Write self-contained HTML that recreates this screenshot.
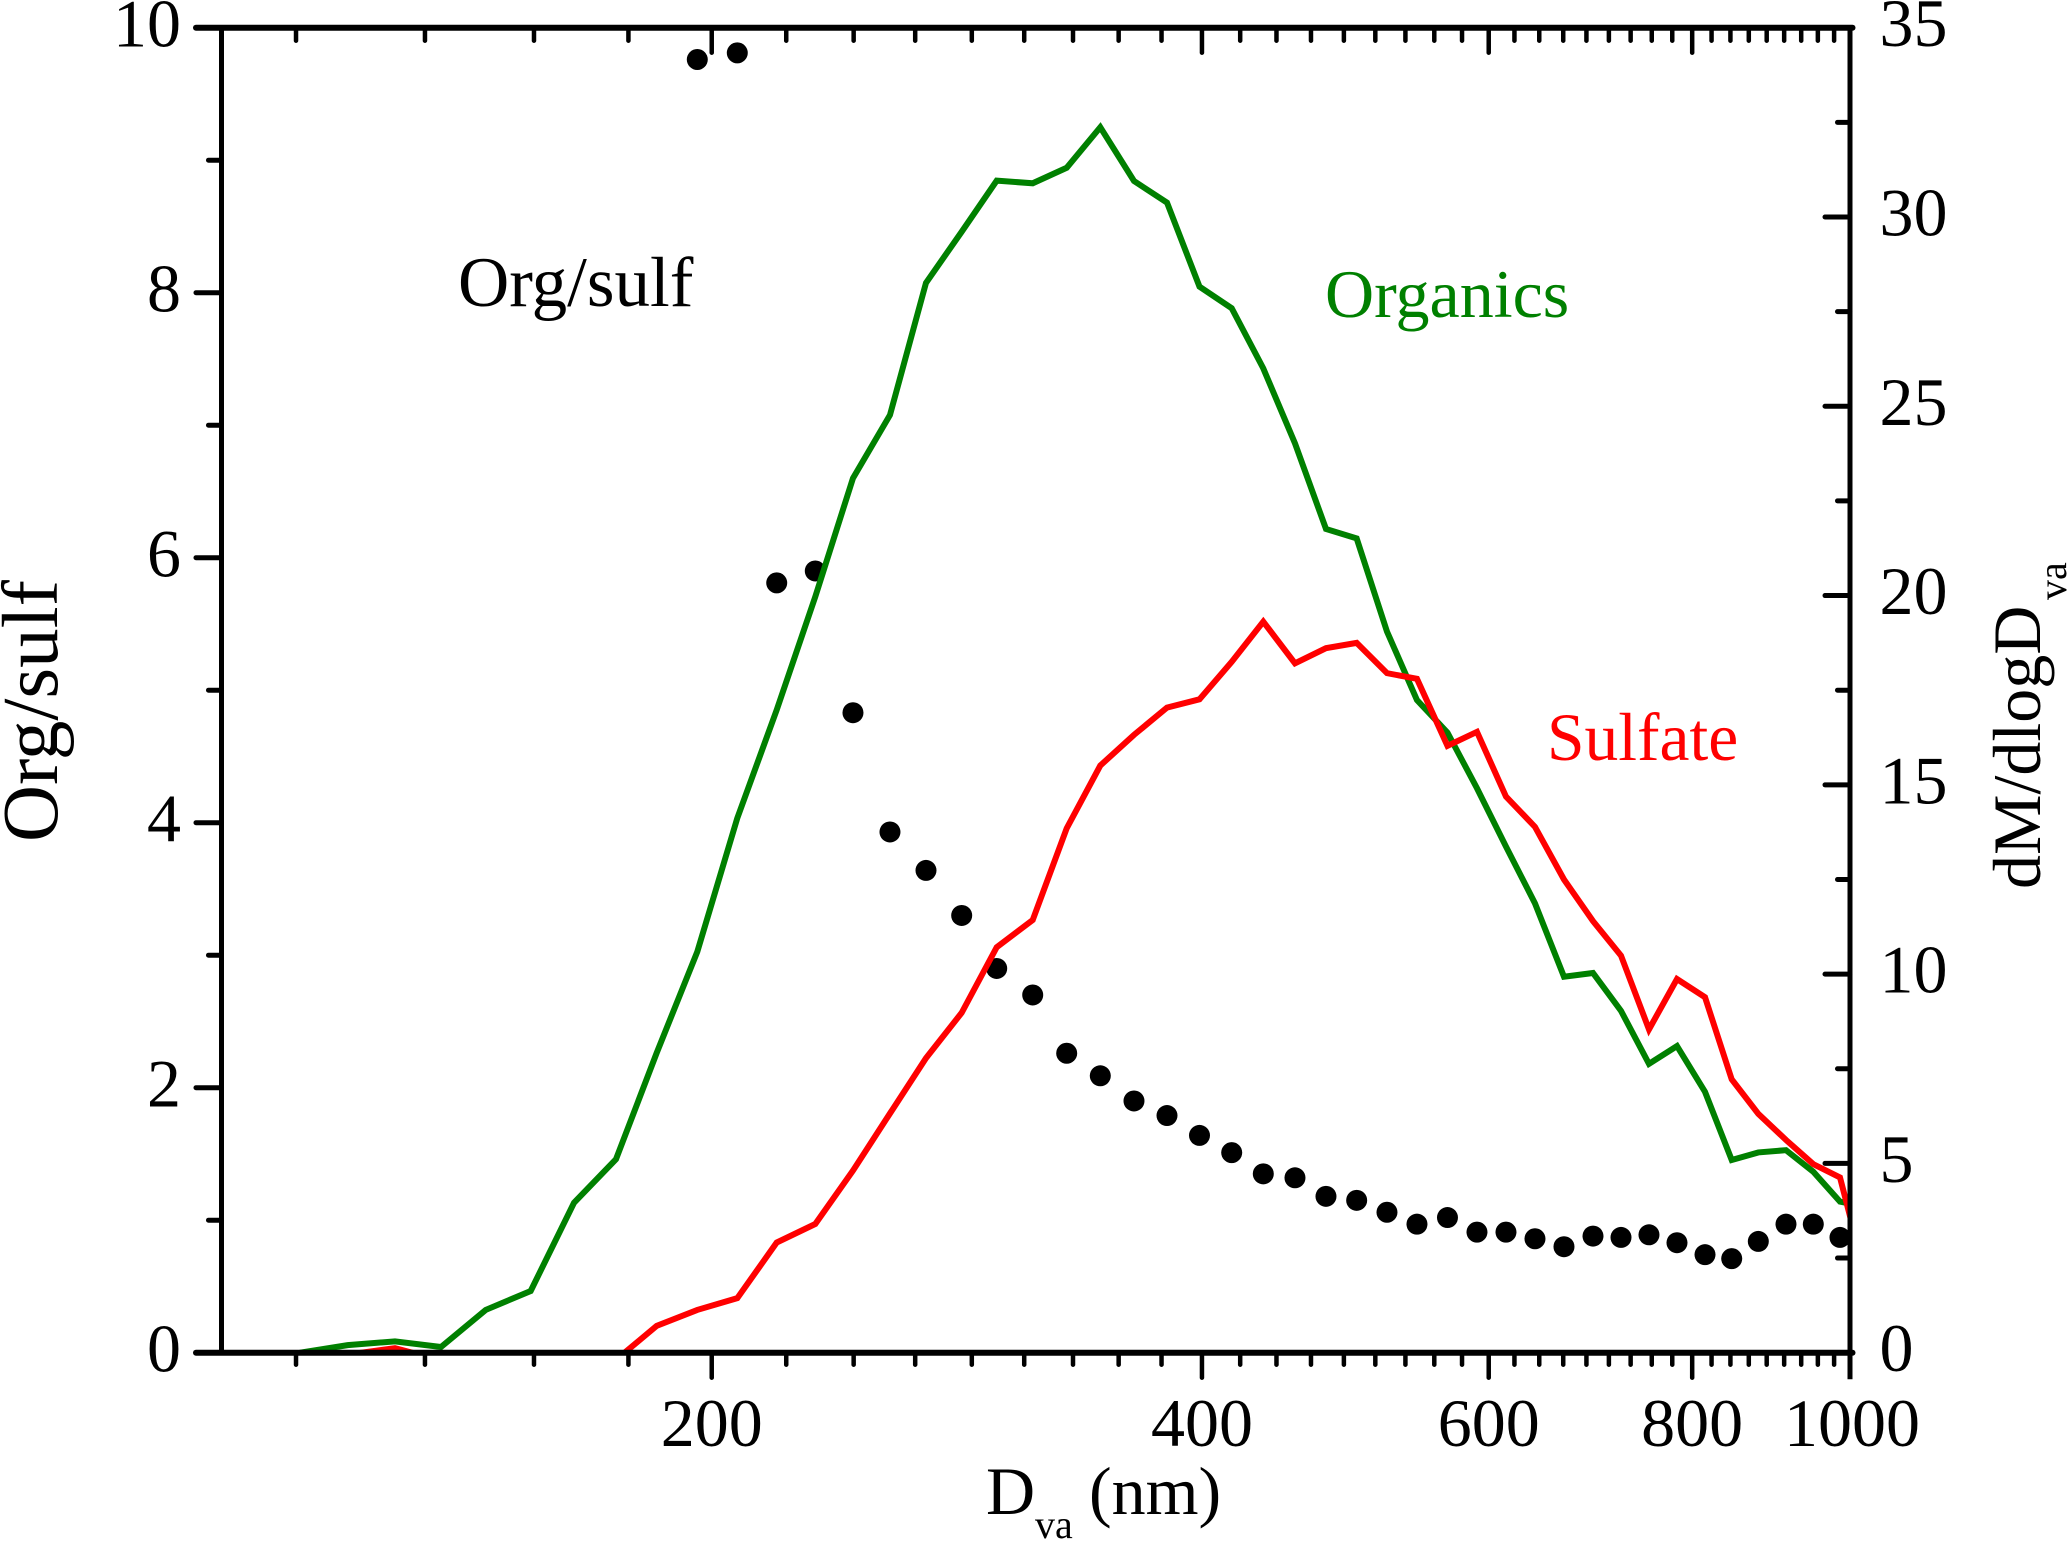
<!DOCTYPE html>
<html lang="en">
<head>
<meta charset="utf-8">
<title>Org/sulf and size distributions versus Dva</title>
<style>
html,body{margin:0;padding:0;background:#fff;}
svg{display:block;font-family:"Liberation Serif","Times New Roman",serif;}
</style>
</head>
<body>
<svg id="chart" xmlns="http://www.w3.org/2000/svg" width="2067" height="1542" viewBox="0 0 2067 1542">
  <rect x="0" y="0" width="2067" height="1542" fill="#fff"/>
  <defs>
    <clipPath id="plot-clip"><rect x="221.5" y="27.7" width="1628.5" height="1325"/></clipPath>
  </defs>
  <g id="marks" clip-path="url(#plot-clip)"></g>
  <g id="axes"></g>
  <g id="labels" font-size="68" fill="#000"></g>

  <text x="458" y="306" font-size="71" fill="#000">Org/sulf</text>
  <text x="1325" y="317" font-size="68" fill="#008000">Organics</text>
  <text x="1547" y="760" font-size="67.5" fill="#ff0000">Sulfate</text>

  <text fill="#000" font-size="68" y="1514"><tspan x="986">D</tspan><tspan x="1035" y="1538" font-size="40">va</tspan><tspan x="1089" y="1514">(nm)</tspan></text>
  <text fill="#000" font-size="79" transform="translate(57 842) rotate(-90)">Org/sulf</text>
  <text fill="#000" font-size="68" transform="translate(2040 889) rotate(-90)">dM/dlogD<tspan x="289" dy="26" font-size="40">va</tspan></text>
</svg>
<script>
const diameters = [111.74,119.53,127.80,136.39,145.29,154.83,164.61,174.68,185.03,195.96,207.36,219.25,231.54,244.21,257.33,270.77,284.79,299.24,314.87,330.37,346.45,363.35,380.71,398.61,417.18,436.24,456.23,476.67,497.81,519.61,542.12,566.01,590.12,614.82,640.56,667.37,695.32,723.40,752.60,783.00,814.64,845.99,878.41,913.47,949.43,985.95,1022.9];
const organics = [0,0.20,0.30,0.15,1.13,1.63,3.96,5.11,7.92,10.59,14.12,16.98,19.97,23.10,24.77,28.26,29.61,30.96,30.89,31.30,32.37,30.95,30.38,28.16,27.59,26.00,24.02,21.76,21.51,19.05,17.24,16.38,14.91,13.37,11.87,9.93,10.03,9.03,7.63,8.10,6.89,5.09,5.29,5.35,4.78,3.99,3.86];
const sulfate = [-0.2,-0.05,0.12,-0.2,-0.2,-0.2,-0.2,-0.19,0.71,1.13,1.44,2.91,3.40,4.81,6.32,7.78,8.98,10.71,11.43,13.85,15.51,16.32,17.04,17.26,18.25,19.31,18.21,18.61,18.75,17.95,17.80,16.03,16.40,14.69,13.89,12.50,11.40,10.49,8.54,9.87,9.39,7.22,6.31,5.62,4.98,4.63,1.97];
const orgSulfRatio = [null,null,null,null,null,null,null,null,null,9.76,9.81,5.81,5.90,4.83,3.93,3.64,3.30,2.90,2.70,2.26,2.09,1.90,1.79,1.64,1.51,1.35,1.32,1.18,1.15,1.06,0.97,1.02,0.91,0.91,0.86,0.80,0.88,0.87,0.89,0.83,0.74,0.71,0.84,0.97,0.97,0.87,null];
const xMajorTicks = [200,400,600,800,1000];
const xTickLabels = ['200','400','600','800','1000'];
const leftMajorTicks = [0,2,4,6,8,10];
const leftTickLabels = ['0','2','4','6','8','10'];
const leftMinorTicks = [1,3,5,7,9];
const rightMajorTicks = [0,5,10,15,20,25,30,35];
const rightTickLabels = ['0','5','10','15','20','25','30','35'];
const rightMinorTicks = [2.5,7.5,12.5,17.5,22.5,27.5,32.5];

const SVGNS = 'http://www.w3.org/2000/svg';
const plotLeft = 221.5, plotRight = 1850, plotTop = 27.7, plotBottom = 1352.7;
const xMin = 100, xMax = 1000, leftMax = 10, rightMax = 35;
function xScale(nm){ return plotLeft + (plotRight - plotLeft) * Math.log10(nm / xMin) / Math.log10(xMax / xMin); }
function yLeft(v){ return plotBottom - (plotBottom - plotTop) * v / leftMax; }
function yRight(v){ return plotBottom - (plotBottom - plotTop) * v / rightMax; }

const marks = document.getElementById('marks');
const axes = document.getElementById('axes');
const labels = document.getElementById('labels');

function segment(name, x1, y1, x2, y2, w, cap){
  const el = document.createElementNS(SVGNS, 'line');
  
  
  el.setAttribute('x1', x1);
  el.setAttribute('y1', y1);
  el.setAttribute('x2', x2);
  el.setAttribute('y2', y2);
  el.setAttribute('stroke', '#000');
  el.setAttribute('stroke-width', w);
  el.setAttribute('stroke-linecap', cap);
  axes.appendChild(el);
}
function label(name, text, x, y, anchor){
  const el = document.createElementNS(SVGNS, 'text');
  
  
  el.setAttribute('x', x);
  el.setAttribute('y', y);
  el.setAttribute('text-anchor', anchor);
  el.textContent = text;
  labels.appendChild(el);
}
function seriesLine(name, values, color){
  let d = '';
  values.forEach(function(v, i){
    d += (i ? 'L' : 'M') + xScale(diameters[i]).toFixed(2) + ' ' + yRight(v).toFixed(2);
  });
  const el = document.createElementNS(SVGNS, 'path');
  
  
  el.setAttribute('d', d);
  el.setAttribute('fill', 'none');
  el.setAttribute('stroke', color);
  el.setAttribute('stroke-width', '6');
  el.setAttribute('stroke-linejoin', 'miter');
  marks.appendChild(el);
}

orgSulfRatio.forEach(function(v, i){
  if (v === null) return;
  const c = document.createElementNS(SVGNS, 'circle');
  
  
  c.setAttribute('cx', xScale(diameters[i]).toFixed(2));
  c.setAttribute('cy', yLeft(v).toFixed(2));
  c.setAttribute('r', '10.5');
  c.setAttribute('fill', '#000');
  marks.appendChild(c);
});
seriesLine('organics-line', organics, '#008000');
seriesLine('sulfate-line', sulfate, '#ff0000');

/* frame */
segment('left-axis-line', plotLeft, plotTop, plotLeft, plotBottom, 5, 'butt');
segment('right-axis-line', plotRight, plotTop - 2.5, plotRight, plotBottom + 26.5, 5, 'butt');
segment('top-axis-line', 196, plotTop, plotRight + 2.5, plotTop, 6, 'round');
segment('bottom-axis-line', 196, plotBottom, plotRight + 2.5, plotBottom, 6, 'round');

/* x ticks */
const xMinorStep = (xMajorTicks[1] - xMajorTicks[0]) / 9;
for (let k = -4; k <= 36; k++) {
  const nm = xMajorTicks[0] + k * xMinorStep;
  const px = xScale(nm);
  if (k % 9 === 0) continue;
  segment('x-minor-tick-bottom', px, plotBottom, px, plotBottom + 12, 4.5, 'round');
  segment('x-minor-tick-top', px, plotTop, px, plotTop + 13, 4.5, 'round');
}
xMajorTicks.forEach(function(nm, i){
  const px = xScale(nm);
  if (nm !== xMax) {
    segment('x-major-tick-bottom', px, plotBottom, px, plotBottom + 25, 4.5, 'round');
    segment('x-major-tick-top', px, plotTop, px, plotTop + 25, 4.5, 'round');
  }
  label('x-tick-label', xTickLabels[i], px + (nm === xMax ? 2 : 0), 1446, 'middle');
});

/* left ticks */
leftMajorTicks.forEach(function(v, i){
  const py = yLeft(v);
  if (v !== 0 && v !== leftMax) segment('left-major-tick', 196, py, plotLeft, py, 5, 'round');
  label('left-tick-label', leftTickLabels[i], 181, py + 19, 'end');
});
leftMinorTicks.forEach(function(v){
  const py = yLeft(v);
  segment('left-minor-tick', 208.5, py, plotLeft, py, 5, 'round');
});

/* right ticks */
rightMajorTicks.forEach(function(v, i){
  const py = yRight(v);
  if (v !== 0 && v !== rightMax) segment('right-major-tick', 1825, py, plotRight, py, 5, 'round');
  label('right-tick-label', rightTickLabels[i], 1879.5, py + 18.5, 'start');
});
rightMinorTicks.forEach(function(v){
  const py = yRight(v);
  segment('right-minor-tick', 1837.5, py, plotRight, py, 5, 'round');
});
</script>
</body>
</html>
